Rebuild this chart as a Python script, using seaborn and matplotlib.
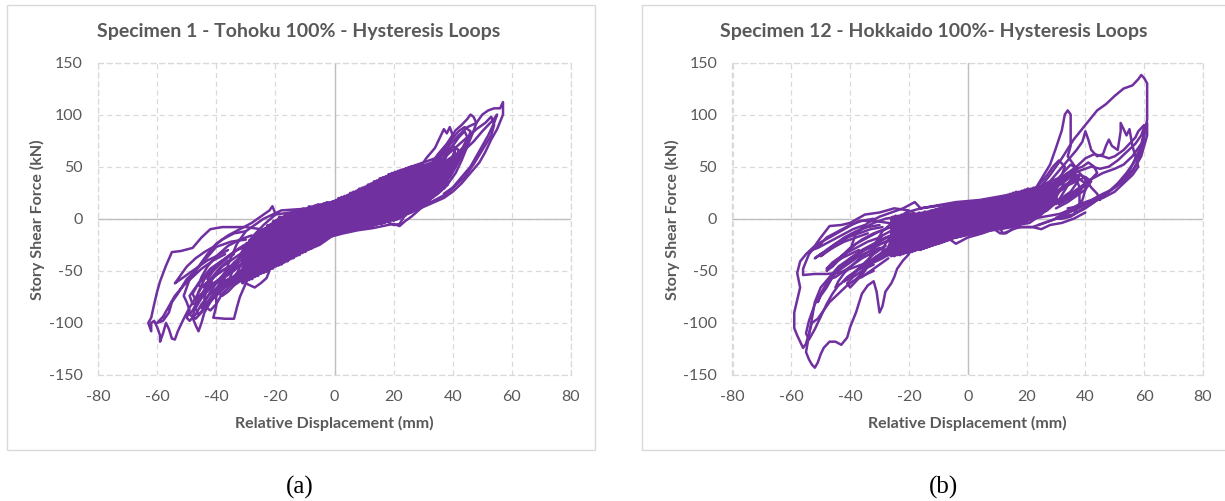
import matplotlib
matplotlib.use("Agg")
import matplotlib.pyplot as plt
import pandas as pd
import seaborn as sns
from matplotlib.patches import Rectangle

# ---------------- data ----------------
# Specimen 1 - Tohoku : (displacement mm, force kN)
tohoku_core = [
    (0, 0), (5, 4), (10, 12), (13, 20), (11, 14), (8, 4), (4, -2), (0, -4), (-4, -6), (-8, -16), (-11, -26),
    (-9, -14), (-6, -4), (-2, 2), (2, 3), (6, 8), (10, 16), (14, 26), (16, 32),
    (14, 20), (11, 8), (7, 2), (3, -1), (-1, -3), (-5, -10), (-10, -18), (-14, -26), (-18, -38),
    (-16, -24), (-13, -10), (-9, -2), (-5, 4), (0, 5), (5, 6), (10, 10), (15, 18), (19, 30), (22, 44),
    (20, 30), (17, 16), (13, 6), (9, 0), (5, -4), (0, -8), (-5, -14), (-10, -21), (-15, -27), (-20, -34), (-24, -46),
    (-22, -32), (-19, -14), (-15, -4), (-10, 0), (-5, 2), (0, 8), (5, 12), (10, 18), (15, 24), (20, 32), (24, 44), (26, 50),
    (24, 38), (21, 20), (17, 8), (13, 2), (9, -4), (5, -9), (0, -13), (-5, -20), (-10, -26), (-15, -31), (-19, -38), (-22, -44),
    (-20, -30), (-17, -16), (-13, -9), (-8, -6), (-3, -2), (2, 1), (7, 5), (12, 13), (16, 24), (18, 34),
    (16, 22), (13, 10), (9, 4), (5, 1), (0, -2), (-5, -8), (-10, -14), (-15, -20), (-20, -27), (-24, -36), (-28, -50),
    (-26, -36), (-23, -22), (-19, -13), (-14, -10), (-9, -8), (-4, -4), (1, -1), (6, 3), (11, 8), (16, 14), (21, 22), (25, 32), (28, 42), (30, 52),
    (28, 40), (25, 24), (21, 12), (17, 4), (12, -2), (7, -6), (2, -10), (-3, -16), (-8, -24), (-13, -30), (-18, -37), (-23, -42), (-28, -48), (-32, -56),
    (-30, -42), (-27, -24), (-23, -15), (-18, -11), (-13, -6), (-8, -1), (-3, 4), (2, 9), (7, 15), (12, 21), (17, 28), (21, 35), (25, 42), (28, 48),
    (26, 36), (23, 18), (19, 6), (15, 0), (11, -6), (6, -10), (1, -13), (-4, -18), (-9, -25), (-13, -30), (-16, -36),
    (-14, -22), (-11, -12), (-7, -8), (-2, -4), (3, 0), (8, 4), (13, 8), (17, 14), (21, 24), (24, 38),
    (22, 28), (19, 14), (15, 6), (11, 2), (6, -1), (1, -5), (-4, -11), (-9, -17), (-14, -22), (-19, -30), (-23, -38), (-26, -48),
    (-24, -34), (-21, -20), (-17, -12), (-12, -3), (-7, 1), (-2, 6), (3, 10), (8, 14), (12, 20), (16, 28), (20, 40),
    (18, 30), (15, 18), (11, 11), (7, 6), (3, 3), (-1, 0), (-6, -4), (-11, -8), (-16, -16), (-20, -28),
    (-18, -18), (-15, -10), (-11, -4), (-6, 0), (-1, 3), (4, 2), (9, 4), (14, 10), (19, 16), (24, 24), (28, 32), (31, 42), (34, 54),
    (32, 44), (29, 28), (25, 16), (21, 8), (17, 2), (12, -2), (7, -4), (2, -7), (-3, -12), (-8, -18), (-13, -24), (-18, -30), (-23, -36), (-27, -44), (-30, -54),
    (-28, -40), (-25, -26), (-21, -18), (-17, -14), (-12, -12), (-7, -10), (-2, -8), (3, -6), (8, -3), (13, 3), (17, 12), (20, 24), (22, 36),
    (20, 26), (17, 14), (13, 8), (9, 4), (5, 0), (0, -6), (-5, -14), (-10, -22), (-14, -30),
    (-12, -16), (-9, -6), (-5, -1), (0, 1), (5, 2), (10, 6), (14, 16), (16, 26),
    (14, 16), (11, 6), (7, 0), (3, -4), (-1, -8), (-6, -14), (-11, -18), (-16, -24), (-20, -32), (-24, -42),
    (-22, -28), (-19, -16), (-15, -8), (-10, -4), (-5, 0), (0, 4), (5, 8), (10, 12), (15, 17), (20, 23), (25, 30), (29, 38), (32, 48),
    (30, 36), (27, 22), (23, 12), (19, 5), (15, 0), (10, -5), (5, -10), (0, -14), (-5, -22), (-10, -28), (-15, -33), (-20, -40), (-25, -45), (-30, -50), (-34, -60),
    (-32, -46), (-29, -30), (-25, -20), (-20, -14), (-15, -10), (-10, -6), (-5, -2), (0, 2), (5, 5), (10, 8), (15, 12), (19, 18), (23, 28), (26, 40),
    (24, 30), (21, 16), (17, 9), (13, 4), (8, 0), (3, -3), (-2, -8), (-7, -14), (-12, -22), (-15, -28), (-18, -36),
    (-16, -20), (-13, -12), (-9, -9), (-4, -6), (1, -3), (5, 0), (9, 6), (12, 14),
    (10, 8), (7, 4), (3, 2), (-1, -1), (-5, -6), (-8, -12), (-10, -20),
    (-8, -10), (-5, -4), (-1, 0), (4, 4), (9, 9), (14, 16), (19, 25), (23, 34), (26, 42), (28, 46),
    (26, 34), (23, 20), (19, 10), (15, 4), (11, 1), (6, -2), (1, -6), (-4, -12), (-9, -18), (-14, -24), (-19, -31), (-24, -38), (-29, -45), (-33, -52), (-36, -62),
    (-34, -46), (-31, -30), (-27, -20), (-22, -14), (-17, -9), (-12, -5), (-7, -1), (-2, 4), (3, 8), (8, 12), (13, 17), (18, 22), (23, 28), (28, 36), (32, 44), (36, 58),
    (34, 46), (31, 30), (27, 18), (23, 10), (19, 4), (14, -1), (9, -5), (4, -9), (-1, -12), (-6, -18), (-11, -24), (-16, -30), (-20, -38), (-22, -44),
    (-20, -26), (-17, -14), (-13, -6), (-8, -2), (-3, 1), (2, 5), (7, 9), (12, 14), (17, 20), (22, 28), (26, 36), (30, 46),
    (28, 34), (25, 20), (21, 12), (17, 6), (13, 2), (8, -2), (3, -6), (-2, -10), (-7, -16), (-12, -24),
    (-10, -12), (-7, -4), (-3, 0), (1, 2), (5, 4), (8, 10),
]
# densely overlapping part of the Tohoku record (zig-zag between the edges of the solid band)
tohoku_fill = [
    (-31, -61), (-30.5, -27), (-30, -60), (-29.5, -24), (-29, -58), (-28.5, -21), (-28, -57), (-27.5, -19),
    (-27, -55), (-26.5, -16), (-26, -54), (-25.5, -14), (-25, -52), (-24.5, -11), (-24, -51), (-23.5, -10),
    (-23, -50), (-22.5, -7), (-22, -48), (-21.5, -6), (-21, -47), (-20.5, -3), (-20, -45), (-19.5, -2),
    (-19, -44), (-18.5, 1), (-18, -43), (-17.5, 1), (-17, -41), (-16.5, 3), (-16, -40), (-15.5, 3),
    (-15, -38), (-14.5, 5), (-14, -37), (-13.5, 5), (-13, -35), (-12.5, 7), (-12, -34), (-11.5, 7),
    (-11, -32), (-10.5, 9), (-10, -31), (-9.5, 9), (-9, -29), (-8.5, 11), (-8, -28), (-7.5, 11),
    (-7, -26), (-6.5, 12), (-6, -24), (-5.5, 13), (-5, -23), (-4.5, 13), (-4, -21), (-3.5, 14),
    (-3, -19), (-2.5, 15), (-2, -17), (-1.5, 15), (-1, -16), (-0.5, 16), (0, -14), (0.5, 17),
    (1, -13), (1.5, 19), (2, -13), (2.5, 20), (3, -12), (3.5, 21), (4, -12), (4.5, 22),
    (5, -11), (5.5, 24), (6, -10), (6.5, 25), (7, -10), (7.5, 26), (8, -9), (8.5, 28),
    (9, -9), (9.5, 29), (10, -8), (10.5, 30), (11, -7), (11.5, 32), (12, -7), (12.5, 33),
    (13, -6), (13.5, 35), (14, -5), (14.5, 36), (15, -4), (15.5, 38), (16, -4), (16.5, 39),
    (17, -3), (17.5, 40), (18, -2), (18.5, 42), (19, -1), (19.5, 43), (20, -1), (20.5, 44),
    (21, 0), (21.5, 45), (22, 1), (22.5, 46), (23, 3), (23.5, 46), (24, 4), (24.5, 47),
    (25, 6), (25.5, 48), (26, 7), (26.5, 49), (27, 9), (27.5, 49), (28, 10), (28.5, 50),
    (29, 12), (29.5, 51), (30, 14), (30.5, 51), (31, 16), (31.5, 52), (32, 18), (32.5, 53),
    (33, 21), (33.5, 52), (34, 24), (34.5, 53), (35, 26), (35.5, 54), (36, 28), (36.5, 55),
    (37, 30), (37.5, 54), (38, 33),
]
tohoku_edge = [
    [(-30, -30), (-28, -18), (-24, -6), (-20, 4), (-15, 6), (-10, 8), (-5, 12), (0, 16), (5, 21), (10, 28), (15, 35),
     (20, 43), (25, 49), (30, 54), (34, 58), (38, 66), (37, 50), (35, 36), (33, 24), (30, 12), (26, 2), (24, -2),
     (22, -7), (20, -5), (18, -6), (13, -9), (8, -11), (3, -14), (-1, -17), (-5, -25), (-10, -31), (-15, -37),
     (-20, -44), (-25, -49), (-30, -54), (-35, -58), (-38, -66), (-36, -44), (-33, -24), (-30, -12), (-27, -6),
     (-24, 0), (-21, 4), (-18, 8), (-13, 9), (-8, 10), (-3, 14), (2, 18), (7, 24), (12, 31), (17, 38), (22, 46),
     (26, 50), (30, 52), (29, 36), (27, 22), (24, 10), (20, 0), (16, -4), (11, -8), (6, -10), (1, -12), (-4, -20),
     (-8, -28), (-13, -33), (-18, -40), (-23, -46), (-28, -50)],
]
tohoku_pos = [
    [(20, 20), (24, 30), (28, 45), (31, 58), (34, 68), (36, 80), (37, 86), (38, 82), (39, 88), (40, 80), (38, 65),
     (36, 52), (34, 40), (31, 28), (28, 18), (25, 10), (22, 4)],
    [(24, 22), (28, 36), (32, 50), (35, 62), (38, 72), (41, 85), (43, 90), (45, 96), (46, 100), (47, 98), (48, 92),
     (47, 84), (45, 70), (43, 56), (41, 44), (38, 32), (35, 24), (31, 16), (27, 10), (23, 6)],
    [(26, 28), (30, 42), (34, 56), (38, 68), (42, 80), (45, 88), (48, 92), (50, 100), (52, 104), (54, 106), (56, 106),
     (57, 112), (57, 100), (56, 93), (55, 86), (53, 76), (51, 64), (49, 54), (46, 44), (43, 34), (40, 26), (37, 20),
     (33, 15), (29, 10), (25, 5)],
    [(28, 30), (32, 44), (36, 56), (40, 66), (44, 76), (48, 86), (51, 92), (53, 98), (54, 90), (53, 80), (50, 66),
     (47, 52), (44, 40), (41, 32), (38, 24), (34, 18), (30, 12)],
    [(30, 40), (33, 52), (36, 62), (39, 74), (42, 84), (44, 88), (46, 84), (45, 74), (43, 62), (41, 52), (39, 44),
     (36, 36), (33, 28), (30, 20)],
    [(32, 38), (35, 48), (38, 56), (41, 62), (40, 52), (38, 42), (35, 32), (32, 24)],
    [(34, 44), (37, 56), (40, 70), (42, 78), (44, 84), (45, 78), (43, 66), (41, 56), (39, 48), (37, 40), (34, 32)],
    [(36, 40), (39, 50), (42, 60), (41, 50), (39, 40), (36, 30), (33, 22), (30, 14), (27, 8), (24, 4), (22, -5),
     (20, -6), (18, -3)],
    [(38, 46), (41, 58), (44, 66), (47, 74), (50, 84), (52, 90), (54, 96), (55, 100), (54, 92), (52, 80), (50, 70),
     (48, 60), (46, 50), (43, 40), (40, 30), (37, 24)],
    [(30, 30), (34, 42), (37, 50), (40, 58), (39, 46), (37, 36), (34, 26)],
    [(26, 20), (30, 30), (33, 38), (36, 44), (38, 50), (40, 54), (39, 42), (37, 32), (34, 24), (31, 18)],
    [(28, 34), (31, 44), (34, 54), (37, 62), (40, 70), (42, 66), (41, 56), (39, 46), (37, 38), (34, 30), (31, 24)],
    [(30, 26), (33, 36), (36, 46), (39, 56), (42, 64), (44, 70), (43, 60), (41, 50), (39, 40), (36, 32), (33, 26)],
    [(32, 30), (35, 40), (38, 50), (40, 60), (41, 68), (40, 58), (38, 48), (36, 40), (34, 34)],
]
tohoku_neg = [
    [(-25, -10), (-30, -8), (-34, -8), (-38, -8), (-42, -10), (-45, -18), (-48, -28), (-52, -31), (-55, -32),
     (-57, -45), (-59, -60), (-60, -70), (-61, -82), (-62, -95), (-63, -100), (-62, -108), (-62, -100), (-61, -98),
     (-60, -104), (-59, -112), (-59, -118), (-58, -110), (-57, -100), (-56, -106), (-55, -115), (-54, -116),
     (-53, -108), (-51, -96), (-49, -85), (-47, -76), (-45, -66), (-42, -58), (-38, -50), (-34, -44)],
    [(-30, -20), (-35, -22), (-40, -27), (-44, -40), (-47, -50), (-50, -58), (-53, -72), (-55, -80), (-56, -90),
     (-58, -98), (-60, -100), (-58, -94), (-56, -84), (-54, -74), (-51, -64), (-48, -56), (-45, -48), (-41, -40),
     (-37, -34)],
    [(-28, -25), (-33, -30), (-37, -38), (-41, -48), (-44, -58), (-46, -70), (-47, -82), (-48, -95), (-47, -102),
     (-46, -108), (-45, -100), (-44, -90), (-42, -80), (-40, -72), (-37, -64), (-34, -56), (-31, -50)],
    [(-26, -30), (-30, -40), (-34, -50), (-38, -58), (-40, -70), (-40, -84), (-41, -95), (-37, -96), (-34, -96),
     (-33, -85), (-32, -75), (-30, -62), (-27, -66), (-25, -62), (-23, -57), (-22, -50)],
    [(-20, 5), (-21, 12), (-22, 8), (-25, 2), (-28, -4), (-32, -10), (-36, -16), (-40, -24), (-43, -34), (-46, -46),
     (-49, -58), (-50, -66), (-51, -74), (-50, -80), (-49, -88), (-50, -95), (-49, -98), (-47, -92), (-45, -82),
     (-42, -72), (-39, -64), (-36, -58), (-33, -54), (-30, -50)],
    [(-28, -16), (-32, -20), (-36, -26), (-40, -36), (-43, -46), (-45, -56), (-46, -64), (-44, -66), (-42, -60),
     (-40, -54), (-37, -48), (-34, -44)],
    [(-30, -30), (-34, -38), (-38, -46), (-41, -56), (-43, -66), (-44, -76), (-44, -84), (-42, -88), (-40, -82),
     (-38, -72), (-35, -64), (-32, -58), (-28, -52)],
    [(-27, -20), (-31, -26), (-35, -34), (-38, -42), (-41, -50), (-43, -58), (-41, -62), (-38, -60), (-35, -58),
     (-32, -54), (-29, -48)],
    [(-30, -36), (-34, -46), (-38, -56), (-42, -66), (-45, -76), (-47, -86), (-46, -92), (-44, -86), (-42, -78),
     (-39, -70), (-36, -62), (-33, -56), (-30, -50), (-27, -44)],
    [(-28, -30), (-32, -38), (-36, -48), (-39, -58), (-42, -70), (-44, -80), (-45, -86), (-43, -80), (-41, -72),
     (-38, -64), (-35, -58), (-32, -52), (-29, -46)],
    [(-32, -28), (-36, -36), (-40, -46), (-43, -54), (-46, -62), (-48, -72), (-47, -78), (-45, -72), (-42, -64),
     (-39, -58), (-36, -52), (-33, -46)],
    [(-26, -24), (-30, -32), (-34, -42), (-37, -52), (-39, -62), (-40, -70), (-38, -74), (-36, -70), (-34, -64),
     (-31, -58), (-28, -54), (-25, -50)],
    [(-34, -34), (-38, -40), (-42, -48), (-45, -58), (-47, -66), (-49, -74), (-48, -82), (-46, -80), (-44, -72),
     (-41, -64), (-38, -56), (-35, -50), (-32, -44)],
    [(-36, -40), (-39, -48), (-42, -58), (-44, -68), (-46, -78), (-48, -88), (-49, -92), (-47, -96), (-45, -90),
     (-43, -82), (-40, -74), (-37, -66), (-34, -60), (-31, -56)],
    [(-30, -12), (-34, -14), (-38, -20), (-41, -27), (-44, -32), (-47, -38), (-50, -46), (-52, -54), (-54, -62),
     (-52, -58), (-49, -52), (-46, -46), (-43, -40), (-40, -36), (-36, -30)],
]

# Specimen 12 - Hokkaido : (displacement mm, force kN)
hokkaido_core = [
    (0, 0), (4, 2), (8, 6), (12, 12), (10, 6), (6, 0), (2, -4), (-2, -6), (-6, -8), (-10, -14), (-8, -6), (-4, 0),
    (0, 3), (4, 6), (8, 10), (13, 16), (16, 20),
    (14, 10), (11, 2), (7, -4), (3, -6), (-1, -8), (-5, -10), (-10, -12), (-15, -16), (-20, -26),
    (-18, -14), (-15, -4), (-11, 2), (-6, 4), (-1, 5), (4, 6), (9, 8), (14, 12), (18, 18), (22, 26),
    (20, 16), (17, 6), (13, 0), (9, -4), (5, -8), (0, -12), (-5, -15), (-10, -18), (-15, -20), (-20, -24), (-24, -30), (-26, -34),
    (-24, -20), (-21, -6), (-17, 0), (-12, 4), (-7, 8), (-2, 10), (3, 12), (8, 14), (13, 16), (18, 20), (23, 26), (28, 34),
    (26, 22), (23, 10), (19, 2), (15, -2), (11, -6), (6, -10), (1, -14), (-4, -18), (-9, -20), (-13, -22), (-16, -26),
    (-14, -14), (-11, -6), (-7, -2), (-2, 1), (3, 2), (8, 4), (12, 8), (15, 14), (18, 20),
    (16, 10), (13, 4), (9, 0), (5, -2), (0, -4), (-5, -6), (-10, -8), (-15, -12), (-20, -18), (-25, -24), (-28, -30), (-30, -38),
    (-28, -24), (-25, -12), (-21, -4), (-16, 0), (-11, 2), (-6, 4), (-1, 6), (4, 8), (9, 10), (14, 12), (19, 16), (24, 22), (28, 30), (32, 40),
    (30, 28), (27, 14), (23, 4), (19, -2), (15, -6), (10, -8), (5, -10), (0, -14), (-5, -18), (-10, -22), (-15, -25), (-20, -28), (-24, -32),
    (-22, -18), (-19, -8), (-15, -4), (-10, -2), (-5, 0), (0, 2), (5, 4), (10, 6), (15, 10), (20, 16), (24, 24),
    (22, 14), (19, 6), (15, 2), (11, -1), (7, -3), (2, -6), (-3, -10), (-8, -14), (-12, -20),
    (-10, -8), (-7, -2), (-3, 3), (2, 6), (7, 9), (12, 12), (17, 16), (22, 20), (26, 26), (30, 36),
    (28, 24), (25, 12), (21, 4), (17, 0), (13, -3), (8, -6), (3, -8), (-2, -10), (-7, -12), (-12, -14), (-17, -18), (-22, -22), (-26, -28), (-28, -34),
    (-26, -20), (-23, -8), (-19, 0), (-14, 6), (-9, 10), (-4, 14), (1, 16), (6, 18), (11, 19), (16, 20), (20, 24),
    (18, 14), (15, 6), (11, 2), (7, -2), (3, -4), (-2, -6), (-7, -8), (-12, -10), (-17, -14), (-22, -22),
    (-20, -10), (-17, -2), (-13, 4), (-8, 6), (-3, 8), (2, 10), (7, 12), (12, 14), (17, 16), (22, 20), (27, 26), (31, 34), (34, 40), (36, 44),
    (34, 32), (31, 18), (27, 8), (23, 2), (19, -4), (15, -8), (11, -10), (6, -12), (1, -15), (-4, -18), (-9, -21), (-14, -24), (-19, -27), (-24, -30), (-29, -34), (-34, -42),
    (-32, -28), (-29, -16), (-25, -10), (-20, -6), (-15, -4), (-10, -2), (-5, 1), (0, 4), (5, 6), (10, 8), (15, 10), (20, 14), (23, 20), (26, 28),
    (24, 18), (21, 8), (17, 2), (13, -2), (9, -6), (4, -10), (-1, -14), (-6, -16), (-11, -18), (-15, -22), (-18, -28),
    (-16, -10), (-13, -2), (-9, 4), (-4, 8), (1, 12), (6, 14), (10, 14), (14, 18),
    (12, 10), (9, 6), (5, 2), (0, -2), (-5, -4), (-10, -6), (-15, -10), (-20, -16), (-24, -22), (-26, -28),
    (-24, -14), (-21, -4), (-17, 2), (-12, 8), (-7, 12), (-2, 14), (3, 16), (8, 17), (13, 18), (18, 22), (23, 26), (28, 30), (31, 36), (34, 44),
    (32, 30), (29, 16), (25, 4), (21, -4), (17, -6), (13, -8), (8, -10), (3, -12), (-2, -15), (-7, -17), (-11, -20), (-14, -26),
    (-12, -12), (-9, -6), (-5, -2), (0, 0), (5, 2), (10, 6),
]
# densely overlapping part of the Hokkaido record
hokkaido_fill = [
    (-26, -35), (-25.5, 1), (-25, -35), (-24.5, 2), (-24, -34), (-23.5, 2), (-23, -34), (-22.5, 3),
    (-22, -33), (-21.5, 3), (-21, -32), (-20.5, 4), (-20, -32), (-19.5, 4), (-19, -31), (-18.5, 5),
    (-18, -30), (-17.5, 4), (-17, -29), (-16.5, 5), (-16, -29), (-15.5, 5), (-15, -28), (-14.5, 6),
    (-14, -27), (-13.5, 6), (-13, -26), (-12.5, 7), (-12, -25), (-11.5, 7), (-11, -24), (-10.5, 8),
    (-10, -23), (-9.5, 8), (-9, -22), (-8.5, 9), (-8, -21), (-7.5, 9), (-7, -20), (-6.5, 10),
    (-6, -19), (-5.5, 10), (-5, -18), (-4.5, 11), (-4, -17), (-3.5, 11), (-3, -16), (-2.5, 12),
    (-2, -15), (-1.5, 12), (-1, -14), (-0.5, 13), (0, -13), (0.5, 13), (1, -13), (1.5, 14),
    (2, -12), (2.5, 14), (3, -12), (3.5, 15), (4, -11), (4.5, 15), (5, -11), (5.5, 16),
    (6, -10), (6.5, 17), (7, -10), (7.5, 17), (8, -10), (8.5, 18), (9, -9), (9.5, 18),
    (10, -9), (10.5, 19), (11, -8), (11.5, 20), (12, -8), (12.5, 21), (13, -7), (13.5, 22),
    (14, -6), (14.5, 23), (15, -5), (15.5, 24), (16, -4), (16.5, 25), (17, -3), (17.5, 25),
    (18, -2), (18.5, 26), (19, -1), (19.5, 27), (20, 0), (20.5, 28), (21, 1), (21.5, 28),
    (22, 2), (22.5, 29), (23, 3), (23.5, 29), (24, 5), (24.5, 30), (25, 7), (25.5, 31),
    (26, 8), (26.5, 32), (27, 10), (27.5, 33), (28, 12), (28.5, 34), (29, 14), (29.5, 34), (30, 16),
]
hokkaido_edge = [
    [(-40, -30), (-38, -14), (-34, -4), (-30, 2), (-26, 6), (-22, 10), (-18, 16), (-16, 10), (-12, 12), (-8, 14),
     (-4, 16), (0, 17), (4, 18), (8, 20), (12, 22), (16, 24), (20, 26), (24, 30), (28, 36), (32, 40), (36, 46),
     (38, 30), (38, 14), (36, 4), (33, 2), (30, 0), (26, -4), (22, -8), (18, -8), (15, -10), (13, -14), (11, -14),
     (9, -10), (5, -14), (0, -18), (-4, -24), (-6, -20), (-10, -24), (-15, -26), (-20, -30), (-25, -33), (-30, -38),
     (-34, -44), (-32, -26), (-29, -12), (-25, -2), (-21, 6), (-16, 10), (-11, 12), (-6, 14), (-1, 14), (4, 16),
     (9, 18), (14, 20), (19, 24), (24, 28), (29, 34), (34, 40), (38, 42), (40, 40), (40, 28), (39, 18), (37, 10),
     (34, 6), (30, 4), (26, 2), (22, 0), (18, -2), (14, -4), (10, -8), (6, -10), (2, -14), (-3, -16), (-8, -18),
     (-13, -22), (-18, -26), (-23, -30)],
]
hokkaido_pos = [
    [(15, 10), (20, 18), (24, 28), (28, 42), (32, 58), (36, 76), (40, 90), (44, 104), (47, 110), (50, 118), (53, 125),
     (56, 128), (58, 134), (59, 138), (60, 135), (61, 130), (61, 110), (61, 95), (60, 80), (59, 70), (57, 58),
     (55, 46), (52, 36), (48, 26), (44, 18), (40, 10), (36, 4), (32, 2), (28, -2), (24, -6)],
    [(18, 12), (22, 24), (25, 38), (28, 52), (30, 68), (32, 85), (33, 100), (34, 104), (35, 100), (35, 80), (35, 70),
     (34, 60), (36, 52), (38, 44), (40, 38), (42, 30), (44, 24), (45, 18)],
    [(20, 14), (24, 24), (28, 36), (31, 46), (34, 56), (37, 66), (39, 74), (40, 84), (41, 76), (42, 66), (44, 60),
     (46, 62), (47, 70), (48, 76), (49, 70), (51, 66), (52, 84), (52, 92), (53, 86), (54, 80), (55, 86), (56, 70),
     (57, 60), (58, 50), (56, 42), (53, 34), (50, 26), (46, 20), (42, 16), (38, 12), (34, 10)],
    [(22, 18), (26, 26), (30, 34), (34, 40), (38, 46), (42, 50), (45, 48), (48, 50), (51, 56), (54, 64), (57, 72),
     (59, 80), (60, 88), (61, 92), (61, 80), (60, 70), (59, 60), (57, 50), (55, 42), (52, 34), (49, 28), (46, 24),
     (42, 18), (38, 14), (34, 8), (31, 4)],
    [(25, 22), (29, 32), (33, 42), (37, 50), (40, 58), (43, 62), (46, 60), (48, 58), (50, 60), (53, 66), (55, 72),
     (57, 78), (58, 84), (60, 90), (60, 78), (59, 66), (58, 56), (56, 46), (53, 38), (50, 30), (47, 24), (43, 18),
     (39, 12), (36, 8), (33, 4), (30, 1)],
    [(27, 26), (30, 36), (33, 46), (35, 52), (37, 48), (39, 50), (41, 54), (43, 50), (44, 44), (42, 38), (40, 32),
     (37, 26), (34, 20), (31, 14)],
    [(20, 22), (24, 32), (27, 42), (29, 50), (31, 56), (33, 50), (32, 42), (30, 36), (28, 30), (26, 26)],
    [(30, 14), (34, 22), (38, 30), (42, 38), (46, 44), (50, 48), (53, 52), (56, 60), (59, 72), (60, 82), (59, 68),
     (57, 56), (54, 44), (51, 34), (48, 26), (45, 20), (42, 14), (38, 8), (35, 2), (32, 0), (30, 0)],
    [(10, -5), (12, -14), (14, -12), (17, -8), (22, -8), (25, -10), (28, -6), (32, -4), (36, 0), (40, 6)],
    [(24, 10), (28, 18), (31, 26), (34, 32), (37, 36), (40, 40), (42, 36), (40, 28), (37, 22), (34, 16), (30, 10)],
    [(22, 10), (26, 18), (30, 26), (33, 32), (36, 38), (38, 42), (37, 34), (35, 26), (32, 20), (28, 14), (25, 8)],
    [(26, 14), (29, 22), (32, 30), (35, 36), (38, 38), (40, 34), (38, 26), (35, 20), (31, 14)],
    [(28, 24), (31, 32), (34, 38), (36, 46), (37, 50), (36, 40), (34, 32), (31, 26)],
]
hokkaido_neg = [
    [(-20, 8), (-25, 10), (-30, 6), (-35, 4), (-40, -4), (-43, -6), (-47, -7), (-50, -18), (-52, -26), (-55, -34),
     (-57, -41), (-58, -52), (-57, -66), (-59, -90), (-59, -105), (-58, -112), (-57, -118),
     (-56, -124), (-55, -120), (-54, -110), (-53, -100), (-51, -96), (-49, -88), (-47, -80), (-44, -72), (-41, -64),
     (-38, -58), (-35, -54), (-32, -50)],
    [(-25, -20), (-30, -24), (-35, -30), (-40, -38), (-44, -46), (-47, -56), (-50, -66), (-52, -80), (-53, -96),
     (-54, -112), (-55, -128), (-54, -135), (-53, -140), (-52, -143), (-51, -138), (-50, -130), (-49, -124),
     (-47, -118), (-45, -118), (-43, -121), (-41, -114), (-40, -104), (-38, -90), (-36, -72), (-34, -64), (-32, -60),
     (-31, -70), (-30, -90), (-29, -84), (-28, -70), (-26, -62), (-25, -56), (-24, -48), (-22, -40),
     (-20, -34)],
    [(-22, -6), (-27, -4), (-32, -2), (-37, -2), (-42, -10), (-47, -18), (-51, -24), (-54, -34), (-56, -48),
     (-56, -54), (-52, -53), (-48, -53), (-44, -52), (-40, -48), (-36, -44), (-32, -40), (-28, -34)],
    [(-24, -14), (-28, -18), (-32, -24), (-36, -30), (-40, -38), (-43, -46), (-46, -56), (-48, -66), (-50, -74),
     (-51, -80), (-50, -72), (-48, -62), (-46, -54), (-43, -48), (-40, -42), (-37, -36), (-34, -32), (-30, -28)],
    [(-20, -14), (-24, -18), (-28, -22), (-32, -28), (-36, -36), (-39, -44), (-42, -52), (-44, -60), (-45, -66),
     (-43, -62), (-41, -56), (-38, -50), (-35, -46), (-32, -42), (-29, -38), (-26, -32)],
    [(-26, -8), (-30, -12), (-34, -18), (-38, -24), (-41, -32), (-44, -40), (-46, -46), (-48, -50), (-46, -44),
     (-43, -38), (-40, -34), (-37, -30)],
    [(-28, -30), (-31, -38), (-34, -46), (-36, -54), (-38, -60), (-40, -66), (-41, -62), (-39, -56), (-37, -52),
     (-35, -48), (-32, -44)],
    [(-24, 2), (-28, 0), (-32, -4), (-36, -10), (-40, -16), (-44, -24), (-47, -30), (-50, -36), (-48, -30),
     (-45, -24), (-41, -18), (-37, -14), (-33, -10), (-29, -8)],
    [(-28, -10), (-32, -14), (-36, -20), (-40, -28), (-43, -36), (-46, -44), (-48, -48), (-46, -42), (-42, -34),
     (-38, -28), (-34, -22), (-30, -18)],
    [(-26, -16), (-30, -22), (-34, -28), (-38, -36), (-42, -44), (-45, -52), (-47, -58), (-45, -56), (-42, -50),
     (-39, -44), (-36, -38), (-32, -32), (-28, -26)],
    [(-30, -6), (-34, -8), (-38, -12), (-42, -18), (-46, -26), (-49, -32), (-52, -38), (-50, -34), (-46, -28),
     (-42, -22), (-38, -18), (-34, -14)],
    [(-28, -26), (-32, -34), (-35, -42), (-38, -50), (-40, -56), (-42, -60), (-40, -56), (-37, -48), (-34, -42),
     (-31, -36)],
    [(-32, 0), (-36, -2), (-40, -6), (-44, -12), (-48, -18), (-50, -24), (-53, -30), (-51, -28), (-47, -22),
     (-43, -16), (-39, -10), (-35, -6)],
    [(-24, -24), (-28, -30), (-31, -36), (-34, -44), (-36, -52), (-38, -58), (-36, -56), (-33, -50), (-30, -44),
     (-27, -38)],
    [(-46, -56), (-49, -68), (-52, -82), (-54, -98), (-55, -110), (-54, -116), (-52, -106), (-50, -94), (-48, -82),
     (-46, -72), (-44, -64)],
]

x_ticks = [-80, -60, -40, -20, 0, 20, 40, 60, 80]
y_ticks = [-150, -100, -50, 0, 50, 100, 150]
titles = ["Specimen 1 - Tohoku 100% - Hysteresis Loops", "Specimen 12 - Hokkaido 100%- Hysteresis Loops"]
x_label = "Relative Displacement (mm)"
y_label = "Story Shear Force (kN)"
captions = ["(a)", "(b)"]


def to_frame(groups):
    rows = []
    seg = 0
    for group in groups:
        for loop in group:
            for d, f in loop:
                rows.append((d, f, seg))
            seg += 1
    return pd.DataFrame(rows, columns=["disp", "force", "seg"])


# ---------------- figure ----------------
sns.set_theme(style="white")
plt.rcParams["font.family"] = ["Lato", "DejaVu Sans"]
plt.rcParams["lines.solid_joinstyle"] = "round"

W, H = 1225, 501
fig = plt.figure(figsize=(W / 100, H / 100), dpi=100)
fig.patch.set_facecolor("white")

TXT = "#595959"
PURPLE = "#7030A0"
GRID = "#d9d9d9"

# panel frames
fig.add_artist(Rectangle((7 / W, 1 - 450 / H), (595 - 7) / W, (450 - 5) / H, transform=fig.transFigure,
                         fill=False, edgecolor="#d9d9d9", lw=1.0))
fig.add_artist(Rectangle((642 / W, 1 - 450 / H), (1240 - 642) / W, (450 - 5) / H, transform=fig.transFigure,
                         fill=False, edgecolor="#d9d9d9", lw=1.0))

panels = [
    dict(left=98, right=571, fill=[[tohoku_fill]],
         data=[[tohoku_core], tohoku_edge, tohoku_pos, tohoku_neg], title_x=299, ylab_x=37, cap_x=300),
    dict(left=732.5, right=1203, fill=[[hokkaido_fill]],
         data=[[hokkaido_core], hokkaido_edge, hokkaido_pos, hokkaido_neg], title_x=934, ylab_x=672, cap_x=943),
]
top, bottom = 62.5, 375

for i, p in enumerate(panels):
    ax = fig.add_axes([p["left"] / W, 1 - bottom / H, (p["right"] - p["left"]) / W, (bottom - top) / H])
    ax.set_facecolor("white")
    dfill = to_frame(p["fill"])
    sns.lineplot(data=dfill, x="disp", y="force", units="seg", estimator=None, sort=False,
                 color=PURPLE, linewidth=3.2, ax=ax, legend=False, zorder=3)
    df = to_frame(p["data"])
    sns.lineplot(data=df, x="disp", y="force", units="seg", estimator=None, sort=False,
                 color=PURPLE, linewidth=1.8, ax=ax, legend=False, zorder=3)
    ax.set_xlim(-80, 80)
    ax.set_ylim(-150, 150)
    ax.set_xticks(x_ticks)
    ax.set_yticks(y_ticks)
    ax.set_xticklabels([str(v) for v in x_ticks])
    ax.set_yticklabels([str(v) for v in y_ticks])
    ax.set_xlabel("")
    ax.set_ylabel("")
    ax.set_axisbelow(True)
    ax.grid(True, color=GRID, linestyle=(0, (4, 3)), linewidth=0.9)
    for s in ax.spines.values():
        s.set_linestyle((0, (4, 3)))
        s.set_color(GRID)
        s.set_linewidth(0.9)
    ax.axhline(0, color="#bfbfbf", lw=1.0, zorder=2)
    ax.axvline(0, color="#bfbfbf", lw=1.0, zorder=2)
    ax.tick_params(axis="both", length=0, labelsize=11.5, labelcolor=TXT)
    ax.tick_params(axis="x", pad=11)
    ax.tick_params(axis="y", pad=11)

    fig.text(p["title_x"] / W, 1 - 31 / H, titles[i], ha="center", va="center", fontsize=14,
             fontweight="bold", color=TXT)
    fig.text((p["left"] + p["right"]) / 2 / W, 1 - 423 / H, x_label, ha="center", va="center",
             fontsize=11.5, fontweight="bold", color=TXT)
    fig.text(p["ylab_x"] / W, 1 - 220 / H, y_label, ha="center", va="center", rotation=90,
             fontsize=11.5, fontweight="bold", color=TXT)
    fig.text(p["cap_x"] / W, 1 - 487 / H, captions[i], ha="center", va="center", fontsize=18,
             family=["Liberation Serif", "DejaVu Serif"], color="black")

fig.savefig("out.png", dpi=100, facecolor="white")
